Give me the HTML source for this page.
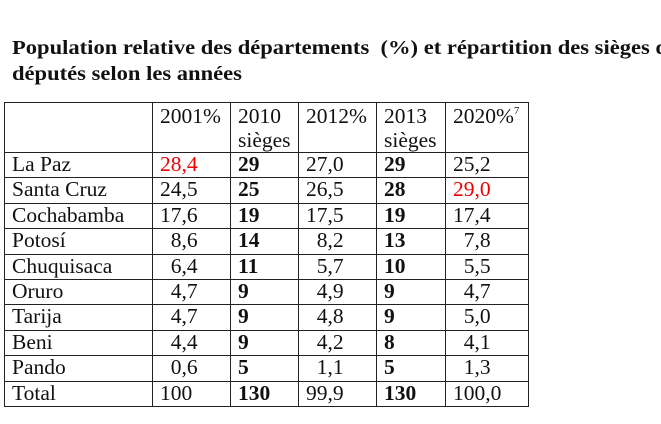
<!DOCTYPE html>
<html><head><meta charset="utf-8"><style>
body{margin:0;width:661px;height:424px;background:#fff;position:relative;overflow:hidden;font-family:"Liberation Serif",serif;color:#111}
#title{position:absolute;left:12px;top:35px;font-weight:bold;font-size:20.5px;line-height:26px;white-space:nowrap;transform-origin:0 0;transform:scaleX(1.1)}
table{position:absolute;left:4px;top:102px;border-collapse:collapse;table-layout:fixed;font-size:21.5px}
td{border:1.5px solid #222;padding:0 0 0 7px;height:24.4px;line-height:23px;vertical-align:top;white-space:pre;overflow:hidden}
tr.h td{height:47px;line-height:24px;padding-top:1px}
sup{font-size:11px;line-height:0;vertical-align:9px}
.r{color:#e00}.b{font-weight:bold}
</style></head><body>
<div id="title">Population relative des départements&nbsp; (%) et répartition des sièges de<br>députés selon les années</div>
<table>
<colgroup><col style="width:148px"><col style="width:78px"><col style="width:68px"><col style="width:78px"><col style="width:69px"><col style="width:83px"></colgroup>
<tr class="h"><td></td><td>2001%</td><td>2010
sièges</td><td>2012%</td><td>2013
sièges</td><td>2020%<sup>7</sup></td></tr>
<tr><td>La Paz</td><td class="r">28,4</td><td class="b">29</td><td>27,0</td><td class="b">29</td><td>25,2</td></tr>
<tr><td>Santa Cruz</td><td>24,5</td><td class="b">25</td><td>26,5</td><td class="b">28</td><td class="r">29,0</td></tr>
<tr><td>Cochabamba</td><td>17,6</td><td class="b">19</td><td>17,5</td><td class="b">19</td><td>17,4</td></tr>
<tr><td>Potosí</td><td>  8,6</td><td class="b">14</td><td>  8,2</td><td class="b">13</td><td>  7,8</td></tr>
<tr><td>Chuquisaca</td><td>  6,4</td><td class="b">11</td><td>  5,7</td><td class="b">10</td><td>  5,5</td></tr>
<tr><td>Oruro</td><td>  4,7</td><td class="b">9</td><td>  4,9</td><td class="b">9</td><td>  4,7</td></tr>
<tr><td>Tarija</td><td>  4,7</td><td class="b">9</td><td>  4,8</td><td class="b">9</td><td>  5,0</td></tr>
<tr><td>Beni</td><td>  4,4</td><td class="b">9</td><td>  4,2</td><td class="b">8</td><td>  4,1</td></tr>
<tr><td>Pando</td><td>  0,6</td><td class="b">5</td><td>  1,1</td><td class="b">5</td><td>  1,3</td></tr>
<tr><td>Total</td><td>100</td><td class="b">130</td><td>99,9</td><td class="b">130</td><td>100,0</td></tr>
</table>
</body></html>
